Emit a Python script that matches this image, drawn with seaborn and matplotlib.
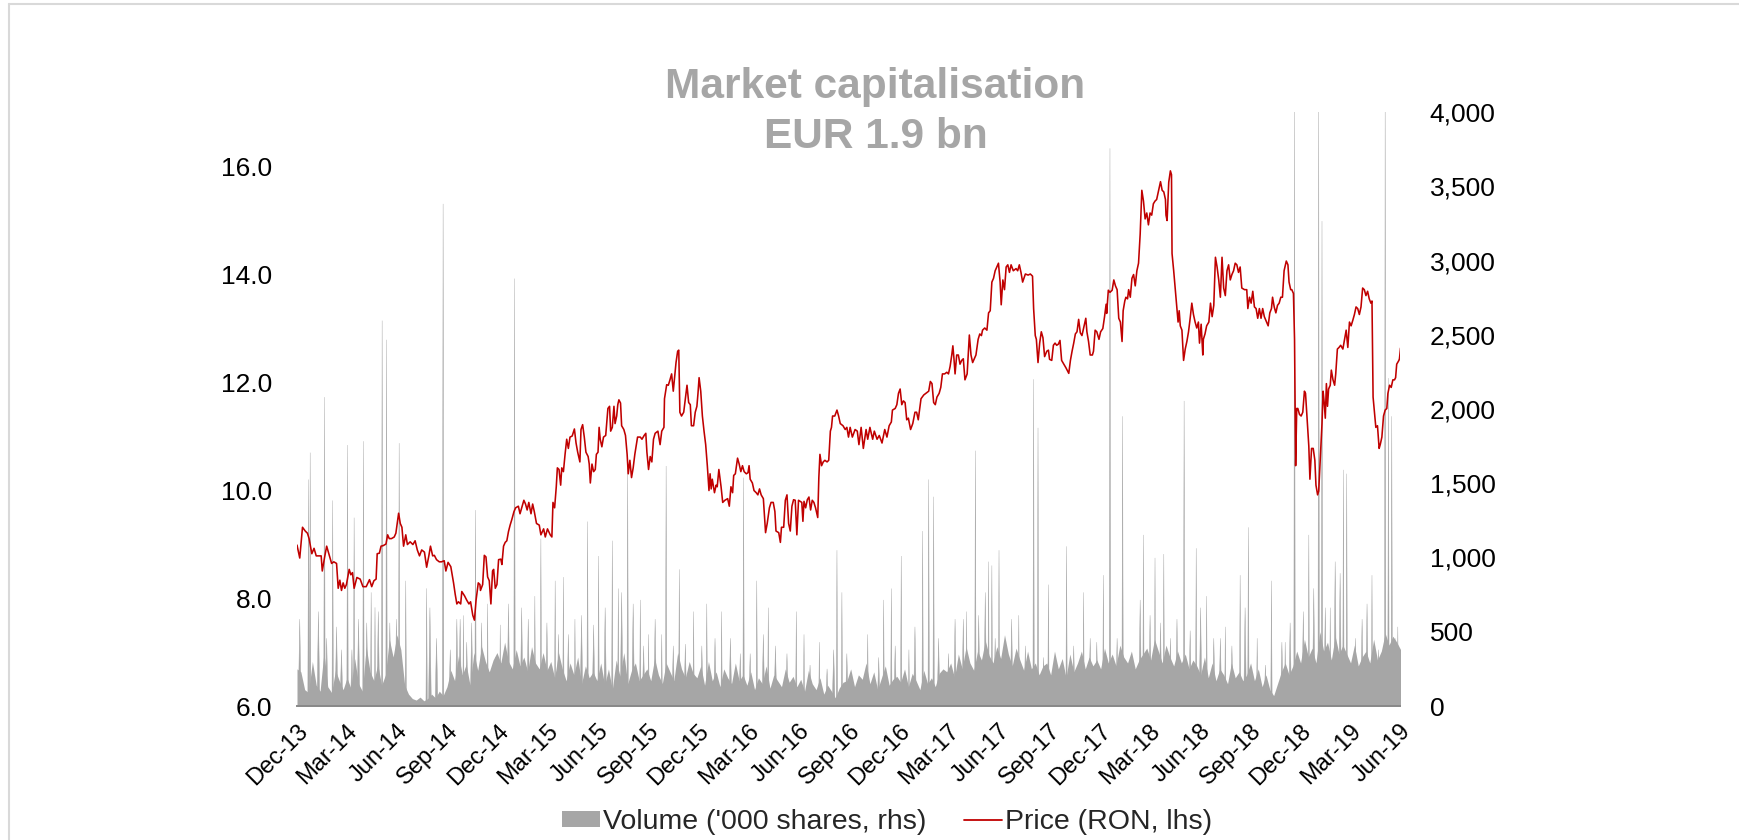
import numpy as np
import pandas as pd
import matplotlib
matplotlib.use("Agg")
import matplotlib.pyplot as plt
import matplotlib.dates as mdates
from matplotlib.lines import Line2D
from matplotlib.patches import Patch
from matplotlib.ticker import FuncFormatter, FixedLocator
import seaborn as sns
import datetime as dt

# ---------------- data ----------------
START = dt.datetime(2013, 12, 1)   # day 0
END = dt.datetime(2019, 6, 1)

# Price (RON) - x in days since 1 Dec 2013
price_day = [0,5,10,15,19,22,27,31,35,39,44,46,50,54,58,63,67,72,75,78,81,84,87,90,95,98,101,104,109,115,
             120,126,132,136,140,144,146,150,153,157,162,165,168,172,177,180,183,185,188,191,194,198,201,206,211,215,219,223,227,232,
             236,240,243,247,250,254,259,263,268,271,275,280,285,288,291,294,298,300,305,309,313,316,320,323,326,330,333,
             334,338,341,344,347,350,353,356,358,361,364,367,371,373,376,379,382,385,388,391,395,398,403,406,409,413,416,419,422,426,
             429,432,436,441,444,449,452,456,461,464,466,469,472,474,477,480,482,485,488,491,494,497,501,505,508,511,515,517,520,523,
             526,530,532,534,537,540,543,545,548,550,552,555,558,562,566,569,571,574,577,579,582,584,586,589,591,595,598,601,603,606,
             609,612,615,620,625,628,632,635,637,640,643,646,649,652,657,661,664,668,669,
             673,676,679,682,685,688,690,693,695,697,700,704,707,710,713,716,718,722,725,728,730,732,735,738,741,744,747,750,752,
             754,756,760,763,765,768,772,775,779,784,787,790,793,795,798,802,805,808,811,814,818,821,823,825,829,832,836,839,842,845,
             849,853,856,860,863,867,870,872,877,880,882,886,889,892,895,898,901,904,907,910,913,916,919,921,923,926,929,932,935,938,
             941,944,948,950,952,955,958,961,965,968,971,973,975,979,983,986,989,994,998,1001,1004,1007,
             1011,1016,1020,1023,1027,1031,1036,1039,1043,1048,1051,1056,1060,1065,1070,1074,1078,1082,1084,1089,
             1092,1095,1098,1101,1104,1107,1110,1113,1117,1121,1125,1128,1131,1136,1141,1145,1150,1153,1156,1159,
             1162,1165,1169,1172,1175,1179,1183,1186,1189,1192,1194,1196,1198,1201,1204,1207,1210,1213,1216,1220,
             1222,1224,1227,1230,1233,1236,1240,1243,1246,1248,1252,1256,1259,1262,1265,1268,1271,1274,1277,1280,
             1282,1285,1288,1291,1294,1297,1300,1304,1309,1312,1315,1318,1321,1326,1331,1335,1339,1341,1344,
             1346,1349,1352,1355,1358,1361,1365,1368,1370,1374,1377,1380,1383,1386,1389,1392,1396,1400,1405,1408,
             1411,1414,1417,1420,1423,1426,1429,1432,1436,1438,1441,1444,1448,1450,1453,1456,1460,1463,1467,1470,
             1473,1474,1477,1480,1484,1487,1490,1493,1496,1499,1502,1504,1507,1509,1512,1514,1517,1520,1523,1526,
             1529,1532,1535,1538,1541,1544,1547,1550,1553,1556,1559,1562,1565,1568,1572,1575,1578,1581,1582,1584,
             1587,1590,1592,1593,1596,1599,1602,1604,1606,1608,1611,1614,1617,1620,1623,1626,1629,1632,1635,1638,
             1641,1643,1646,1649,1650,1653,1656,1660,1663,1666,1669,1672,1675,1678,1681,
             1684,1687,1690,1693,1696,1699,1702,1705,1708,1711,1714,1717,1720,1725,1729,1731,1734,1737,1740,1743,
             1746,1749,1752,1755,1758,1761,1765,1768,1771,1774,1776,1779,1782,1785,1788,1791,1794,1797,1801,1804,
             1806,1809,1811,1814,1816,1818,1820,1822,1825,1828,1831,1834,1836,1839,1842,1844,1847,1850,1853,1855,
             1858,1860,1863,1866,1868,1870,1872,1874,1876,1878,1881,1883,1886,1889,1891,1894,1897,1900,1904,1907,
             1910,1913,1916,1919,1922,1925,1928,1931,1934,1937,1940,1943,1946,1949,1952,1955,1957,1959,1962,1964,
             1967,1970,1972,1975,1978,1981,1984,1986,1989,1992,1995,1998,2000,2002,2006,2007,2009]

price_ron = [8.98,8.74,9.31,9.24,9.2,9.1,8.82,8.92,8.78,8.78,8.78,8.5,8.74,8.96,8.82,8.64,8.67,8.64,8.18,8.33,
             8.14,8.28,8.18,8.25,8.53,8.43,8.47,8.18,8.38,8.35,8.21,8.21,8.34,8.21,8.32,8.35,8.82,8.83,8.96,8.97,
             9.0,9.17,9.1,9.1,9.13,9.2,9.42,9.57,9.38,9.31,8.96,9.17,8.99,9.04,8.99,9.06,8.89,8.78,8.89,8.85,
             8.57,8.78,8.96,8.78,8.79,8.71,8.67,8.67,8.69,8.5,8.66,8.58,8.28,8.07,7.89,7.93,7.89,8.12,8.04,7.96,
             7.89,7.93,7.68,7.59,7.96,8.28,8.25,
             8.14,8.25,8.79,8.76,8.39,8.32,7.89,8.5,8.53,8.18,8.25,8.71,8.72,8.62,8.96,9.03,9.06,9.23,9.35,9.45,
             9.6,9.67,9.7,9.56,9.67,9.81,9.74,9.63,9.77,9.56,9.74,9.6,9.38,9.35,9.17,9.28,9.13,9.28,9.17,9.13,
             9.77,9.67,10.06,10.41,10.38,10.09,10.41,10.34,10.66,10.94,10.77,10.98,11.0,11.13,10.87,10.7,10.52,11.12,11.21,10.98,
             10.7,10.62,10.48,10.13,10.48,10.34,10.38,10.66,10.7,11.16,10.94,10.8,10.98,11.01,11.51,11.55,11.09,11.16,11.55,11.23,
             11.37,11.58,11.67,11.61,11.19,11.12,11.01,10.66,10.3,10.55,10.23,10.41,10.66,10.98,10.98,10.94,11.01,11.05,10.7,10.38,
             10.62,10.52,10.94,11.05,11.09,10.84,11.09,11.16,11.69,
             11.95,11.94,12.04,12.15,11.83,12.15,12.36,12.57,12.59,11.44,11.37,11.44,11.69,11.94,11.62,11.58,11.19,11.19,11.44,
             11.55,11.79,12.08,11.83,11.37,11.09,10.84,10.45,9.99,10.3,10.02,10.2,9.95,10.09,10.06,10.38,10.06,9.77,9.81,9.84,
             9.7,10.06,9.95,10.27,10.3,10.59,10.48,10.34,10.45,10.34,10.3,10.32,10.45,10.2,10.13,9.99,9.95,9.91,10.02,9.91,
             9.84,9.21,9.38,9.67,9.77,9.77,9.6,9.24,9.21,9.03,9.31,9.31,9.81,9.91,9.38,9.24,9.7,9.82,9.81,9.17,
             9.81,9.79,9.77,9.42,9.79,9.67,9.82,9.87,9.63,9.81,9.77,9.67,9.49,10.23,10.66,10.45,10.52,10.55,10.52,10.55,
             11.09,11.16,11.37,11.37,11.48,11.37,11.23,11.19,11.12,11.16,10.98,11.16,
             10.98,11.12,11.09,10.84,11.16,10.77,11.12,10.94,11.16,10.94,11.09,10.94,11.01,10.87,11.12,10.98,11.19,11.26,11.48,11.51,
             11.58,11.79,11.87,11.58,11.65,11.62,11.3,11.33,11.12,11.23,11.44,11.44,11.3,11.69,11.76,11.79,11.83,12.01,11.97,11.62,
             11.58,11.72,11.79,11.9,12.15,12.15,12.18,12.15,12.29,12.5,12.67,12.43,12.15,12.5,12.5,12.33,12.4,12.43,12.04,12.15,
             12.5,12.87,12.5,12.36,12.43,12.5,12.79,12.89,12.86,12.96,13.0,12.96,13.28,13.32,13.85,13.92,14.06,14.13,14.2,13.85,
             13.43,13.89,13.71,14.13,14.17,14.03,14.17,14.06,14.1,14.06,14.17,14.03,13.85,14.0,13.98,14.0,13.96,13.36,12.86,
             12.79,12.36,12.72,12.93,12.82,12.47,12.57,12.59,12.42,12.4,12.68,12.72,12.68,12.7,12.77,12.4,12.33,12.26,12.16,12.4,
             12.57,12.72,12.89,12.93,13.16,12.91,12.86,13.0,13.18,12.93,12.75,12.5,12.5,12.57,12.96,12.93,12.79,12.93,12.99,13.2,
             13.44,13.27,13.7,13.66,13.7,13.89,13.78,13.71,13.18,13.11,12.75,13.32,13.5,13.57,13.54,13.71,13.57,13.92,13.99,13.78,
             14.06,14.2,14.74,15.55,15.35,15.02,15.13,14.91,15.13,15.09,15.3,15.35,15.38,15.52,15.71,15.55,15.52,15.38,15.09,14.99,
             15.7,15.91,15.84,14.38,14.06,13.71,13.36,13.11,13.32,13.04,12.96,12.4,12.61,12.75,12.93,13.18,13.46,13.25,13.11,13.0,
             13.11,12.72,13.07,12.5,12.79,12.89,13.04,13.11,13.46,13.21,13.42,14.31,14.13,13.89,13.57,
             14.31,13.74,13.6,14.06,14.17,13.89,13.99,14.06,14.2,14.17,14.03,14.13,13.74,13.71,13.71,13.36,13.57,13.46,13.68,13.39,
             13.36,13.18,13.36,13.18,13.36,13.21,13.11,13.04,13.28,13.36,13.57,13.39,13.28,13.42,13.46,13.57,13.57,14.06,14.24,14.17,
             13.85,13.71,13.71,13.64,12.79,10.45,11.51,11.51,11.4,11.37,11.44,11.83,11.79,11.3,10.81,10.2,10.77,10.77,10.55,10.09,
             9.91,9.98,10.59,11.23,11.83,11.62,11.33,11.97,11.55,11.87,11.94,12.22,12.04,11.94,12.15,12.61,12.64,12.68,12.61,12.79,
             12.96,12.64,13.11,13.04,13.14,13.25,13.39,13.36,13.25,13.39,13.74,13.71,13.6,13.68,13.54,13.46,13.5,11.72,11.37,11.16,
             11.19,10.77,10.84,10.98,11.37,11.48,11.51,11.79,11.94,11.9,12.04,12.04,12.08,12.33,12.4,12.43,12.63]

# Volume ('000 shares) - weekly background level, one value per week from 1 Dec 2013
vol_week = [250,230,110,90,300,140,100,360,130,90,240,170,110,
            190,120,320,150,100,400,230,170,280,140,210,450,330,
            480,380,140,80,50,40,60,35,50,80,55,100,70,
            130,240,170,340,210,280,140,360,240,400,300,230,310,
            360,290,430,300,250,380,270,330,230,400,290,250,360,
            240,300,190,360,250,170,290,210,330,150,270,190,230,
            170,290,140,250,110,310,200,360,150,240,290,170,210,
            250,170,320,210,150,290,230,170,360,250,190,300,220,
            190,270,140,300,170,230,130,250,190,150,290,170,210,
            140,230,110,190,150,270,120,210,170,130,250,160,200,
            130,180,100,240,150,110,190,80,140,100,55,120,160,
            170,250,130,210,180,290,150,230,110,190,270,140,180,
            200,160,250,130,220,170,110,240,150,190,130,220,250,
            230,290,190,350,250,400,290,240,370,310,440,340,290,
            400,320,480,350,270,390,310,240,370,250,290,210,270,
            290,210,370,250,320,190,350,230,290,370,250,330,270,
            310,250,390,290,350,270,410,330,290,370,250,310,350,
            390,310,450,370,290,410,330,270,370,290,350,250,310,
            270,210,330,190,290,170,250,210,150,290,190,230,170,
            210,290,170,250,130,210,110,70,150,230,290,210,270,
            370,290,450,330,390,290,500,370,430,310,470,350,410,
            350,290,410,270,330,370,290,450,310,370,490,410,470,
            430,380]

# Large single-day volume spikes (day since 1 Dec 2013, '000 shares)
spike_day = [21,24,50,65,92,104,121,135,142,155,163,186,198,236,266,303,325,
             347,370,396,433,444,470,485,506,529,549,574,585,602,625,640,664,
             672,696,722,746,773,813,837,858,909,923,951,983,992,
             1039,1068,1082,1100,1114,1139,1150,1159,1219,1235,1259,1265,1278,1314,1341,
             1349,1368,1401,1432,1468,1480,1503,1541,1562,1578,1615,1637,1656,
             1690,1717,1732,1748,1774,1799,1816,1842,1860,1866,1881,1905,1911,1957,1981,1987,1993,2004]
spike_vol = [1525,1706,2080,1384,1757,1268,1783,765,664,2595,2466,1770,843,792,3381,610,1319,
             688,546,2878,740,1126,843,868,585,1242,1010,1113,791,1603,714,482,482,
             1616,920,636,688,636,1538,843,662,636,482,430,1049,765,
             482,714,791,1010,379,1178,1525,1409,636,1719,972,946,1049,611,2200,
             1873,817,1075,765,881,3755,1951,1152,997,1023,2054,1062,740,
             533,881,1203,456,843,430,4100,1152,4100,3265,662,1590,1564,881,4100,2208,1951,533]

# Medium volume peaks
mid_day = [5,39,54,72,81,100,112,127,148,169,181,242,254,279,291,297,309,318,
           336,361,385,409,421,455,476,494,518,540,561,591,612,631,652,
           685,707,737,761,789,807,825,849,871,892,934,965,977,1001,
           1010,1059,1089,1125,1168,1186,1198,1213,1241,1253,1271,1289,1301,1326,
           1359,1383,1414,1444,1456,1493,1517,1535,1553,1572,1590,1602,1626,1645,1669,
           1681,1702,1726,1763,1793,1808,1832,1851,1872,1890,1899,1927,1939,1948,1969,1999]
mid_vol = [585,636,456,533,379,379,585,560,636,560,585,662,456,379,585,585,430,560,
           560,327,688,662,585,560,482,482,611,546,662,765,688,405,585,
           405,417,405,456,456,353,353,482,405,353,276,250,379,353,
           173,327,405,533,456,353,585,585,611,765,456,405,585,405,
           327,301,405,456,430,456,327,714,611,560,456,585,507,662,456,
           456,405,662,276,430,560,636,792,662,972,894,456,585,688,379,456]

y_left_ticks = [6, 8, 10, 12, 14, 16]
y_right_ticks = [0, 500, 1000, 1500, 2000, 2500, 3000, 3500, 4000]
title_lines = ["Market capitalisation", "EUR 1.9 bn"]
legend_labels = ["Volume ('000 shares, rhs)", "Price (RON, lhs)"]

# ---------------- style ----------------
sns.set_theme(style="white")
plt.rcParams['font.family'] = ['Liberation Sans', 'DejaVu Sans']

RED = '#C00000'
GREY = '#A6A6A6'
AXIS = '#898989'

W, H = 1740, 840
fig = plt.figure(figsize=(W / 100, H / 100), dpi=100)
fig.patch.set_facecolor('white')

L, R, T, B = 297, 1400, 112, 706
ax = fig.add_axes([L / W, 1 - B / H, (R - L) / W, (B - T) / H])
ax2 = ax.twinx()
ax.set_zorder(2)
ax2.set_zorder(1)
ax.patch.set_visible(False)

t0 = mdates.date2num(START)
px = t0 + np.asarray(price_day, dtype=float)
wx = t0 + 7.0 * np.arange(len(vol_week))


def spikes(days, vols, hw):
    sx = t0 + np.asarray(days, dtype=float)
    xs = np.column_stack([sx - hw, sx, sx + hw]).ravel()
    ys = np.column_stack([np.zeros(len(sx)), np.asarray(vols, float), np.zeros(len(sx))]).ravel()
    return xs, ys


# volume area (rhs)
ax2.fill_between(wx, 0, vol_week, color=GREY, lw=0, zorder=1)
mx, my = spikes(mid_day, mid_vol, 2.6)
ax2.fill(mx, my, color=GREY, lw=0.3, ec=GREY, zorder=1)
sx, sy = spikes(spike_day, spike_vol, 1.3)
ax2.fill(sx, sy, color=GREY, lw=0.3, ec=GREY, zorder=1)

# price line (lhs)
sns.lineplot(x=px, y=price_ron, ax=ax, color=RED, linewidth=1.15, legend=False, sort=False)

# axes limits and ticks
x_end = mdates.date2num(END)
ax.set_xlim(t0, x_end)
ax.set_ylim(6, 17)
ax2.set_ylim(0, 4000)

ax.yaxis.set_major_locator(FixedLocator(y_left_ticks))
ax.yaxis.set_major_formatter(FuncFormatter(lambda v, p: f"{v:.1f}"))
ax2.yaxis.set_major_locator(FixedLocator(y_right_ticks))
ax2.yaxis.set_major_formatter(FuncFormatter(lambda v, p: f"{v:,.0f}"))

ax.xaxis.set_major_locator(mdates.MonthLocator(bymonth=[3, 6, 9, 12], bymonthday=1))
ax.xaxis.set_major_formatter(mdates.DateFormatter('%b-%y'))

for a in (ax, ax2):
    for s in ('top', 'left', 'right'):
        a.spines[s].set_visible(False)
    a.grid(False)
ax2.spines['bottom'].set_visible(False)
ax.spines['bottom'].set_color(AXIS)
ax.spines['bottom'].set_linewidth(1.4)

ax.tick_params(axis='y', length=0, pad=18, labelsize=19, labelcolor='black')
ax2.tick_params(axis='y', length=0, pad=21.5, labelsize=19, labelcolor='black')
ax.tick_params(axis='x', length=6, width=1.2, color=AXIS, direction='out',
               labelsize=17, pad=4, labelcolor='black')
for lab in ax.get_xticklabels():
    lab.set_rotation(45)
    lab.set_ha('right')
    lab.set_va('top')
    lab.set_rotation_mode('anchor')
ax.set_xlabel('')
ax.set_ylabel('')
ax2.set_ylabel('')

# title
fig.text(875.5 / W, 1 - 98.3 / H, title_lines[0], ha='center', va='baseline',
         fontsize=30.5, fontweight='bold', color=GREY)
fig.text(876 / W, 1 - 148.3 / H, title_lines[1], ha='center', va='baseline',
         fontsize=30.5, fontweight='bold', color=GREY)

# legend
handles = [Patch(facecolor=GREY, edgecolor='none'), Line2D([0], [0], color=RED, lw=1.3)]
fig.legend(handles, legend_labels, loc='center', bbox_to_anchor=(887 / W, 1 - 822 / H),
           ncol=2, frameon=False, fontsize=20.5, handlelength=1.35, handleheight=0.5,
           handletextpad=0.1, columnspacing=1.3, borderaxespad=0, borderpad=0)

# light outer frame (top and left)
fig.add_artist(Line2D([9 / W, 1], [1 - 4 / H, 1 - 4 / H], transform=fig.transFigure,
                      color='#D9D9D9', lw=1.5))
fig.add_artist(Line2D([9 / W, 9 / W], [0, 1 - 4 / H], transform=fig.transFigure,
                      color='#D9D9D9', lw=1.5))

fig.savefig('out.png', dpi=100, facecolor='white')
